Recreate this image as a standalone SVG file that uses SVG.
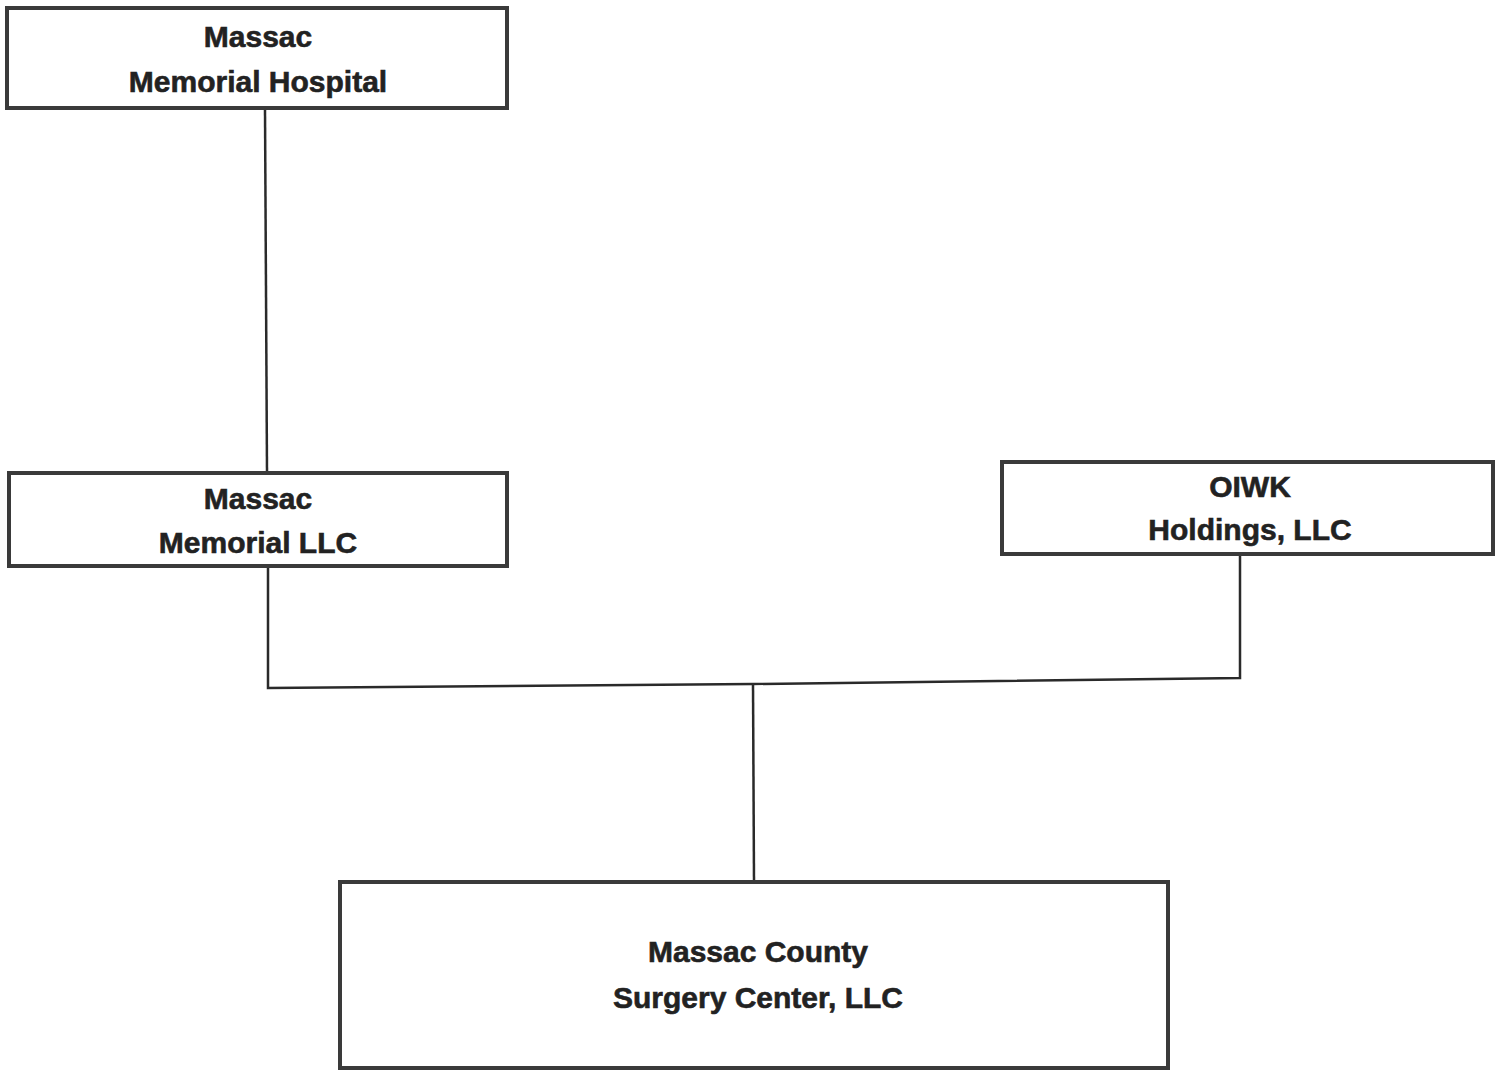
<svg xmlns="http://www.w3.org/2000/svg" width="1502" height="1073" viewBox="0 0 1502 1073">
<style>
.box{fill:#fff;stroke:#3a3a3a;stroke-width:4}
.t{font-family:"Liberation Sans",Arial,sans-serif;font-weight:bold;font-size:30px;fill:#222;stroke:#222;stroke-width:0.6;text-anchor:middle}
.c{fill:none;stroke:#2a2a2a;stroke-width:2.5}
</style>
<rect width="1502" height="1073" fill="#fff"/>
<g id="connectors">
<path class="c" d="M265,110 L267,472"/>
<path class="c" d="M268,568 L268,688 L753,684 L1240,678 L1240,555"/>
<path class="c" d="M753,684 L754,880"/>
</g>
<g id="n1"><rect class="box" x="7" y="8" width="500" height="100"/>
<text class="t" x="258" y="47">Massac</text><text class="t" x="258" y="92">Memorial Hospital</text></g>
<g id="n2"><rect class="box" x="9" y="473" width="498" height="93"/>
<text class="t" x="258" y="509">Massac</text><text class="t" x="258" y="553">Memorial LLC</text></g>
<g id="n3"><rect class="box" x="1002" y="462" width="491" height="92"/>
<text class="t" x="1250" y="497">OIWK</text><text class="t" x="1250" y="540">Holdings, LLC</text></g>
<g id="n4"><rect class="box" x="340" y="882" width="828" height="186"/>
<text class="t" x="758" y="962">Massac County</text><text class="t" x="758" y="1008">Surgery Center, LLC</text></g>
</svg>
